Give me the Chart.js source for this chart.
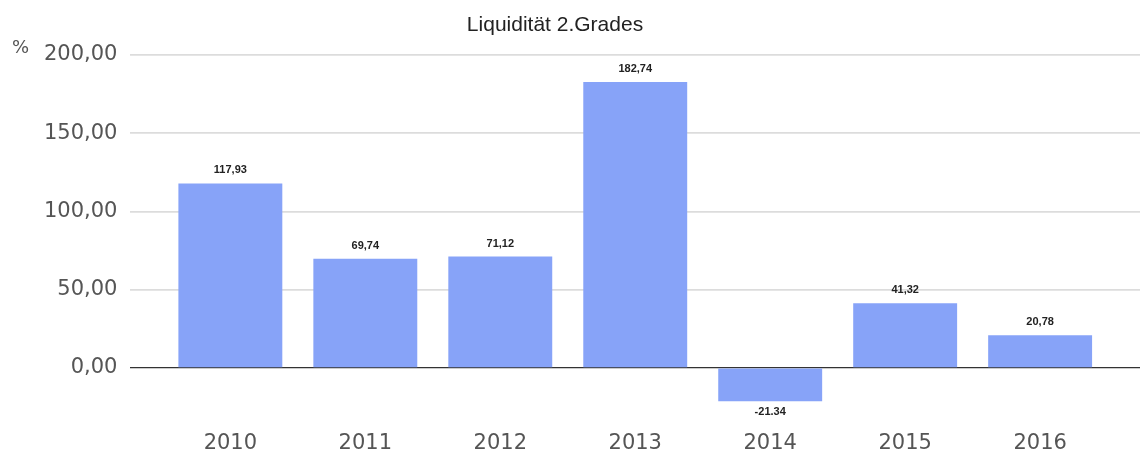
<!DOCTYPE html>
<html>
<head>
<meta charset="utf-8">
<script src="https://cdn.jsdelivr.net/npm/chart.js@4.4.0/dist/chart.umd.min.js"></script>
<style>
  html, body { margin: 0; padding: 0; background: #fff; }
  #wrap { width: 1140px; height: 453px; }
</style>
</head>
<body>
<div id="wrap"><canvas id="chart"></canvas></div>
<script>
// --- data ---
var titel = "Liquidität 2.Grades";
var years = [2010, 2011, 2012, 2013, 2014, 2015, 2016];
var liquiditaet = [117.93, 69.74, 71.12, 182.74, -21.34, 41.32, 20.78];
var wertLabels = ["117,93", "69,74", "71,12", "182,74", "-21.34", "41,32", "20,78"];
var yTicks = [0, 50, 100, 150, 200];

var ctx = document.getElementById("chart").getContext("2d");

// kleine Werte-Beschriftung über/unter den Balken
const wertePlugin = {
  id: "werte",
  afterDatasetsDraw(chart) {
    const c = chart.ctx;
    const meta = chart.getDatasetMeta(0);
    c.save();
    c.font = "bold 11px 'Liberation Sans', Arial, sans-serif";
    c.fillStyle = "#222";
    c.textAlign = "center";
    c.textBaseline = "middle";
    meta.data.forEach((bar, i) => {
      const v = liquiditaet[i];
      const y = v >= 0 ? bar.y - 13 : bar.y + 11;
      c.fillText(wertLabels[i], bar.x, y);
    });
    c.restore();
  }
};

// Titel und "%" oben links
const kopfPlugin = {
  id: "kopf",
  afterDraw(chart) {
    const c = chart.ctx;
    c.save();
    c.font = "21px 'Liberation Sans', Arial, sans-serif";
    c.fillStyle = "#222";
    c.textAlign = "center";
    c.textBaseline = "middle";
    c.fillText(titel, 555, 25);
    c.font = "18px 'DejaVu Sans', Verdana, sans-serif";
    c.fillStyle = "#555";
    c.textAlign = "left";
    c.fillText("%", 12, chart.scales.y.getPixelForValue(200) - 7);
    c.restore();
  }
};

const config = {
  type: "bar",
  data: {
    datasets: [{
      data: years.map((j, i) => ({ x: j, y: liquiditaet[i] })),
      backgroundColor: "#87a3f8",
      borderWidth: 0,
      barPercentage: 0.77,
      categoryPercentage: 1
    }]
  },
  options: {
    responsive: true,
    maintainAspectRatio: false,
    animation: false,
    layout: { padding: { left: 31, right: 0, top: 55, bottom: -19 } },
    plugins: {
      legend: { display: false },
      tooltip: { enabled: false },
      title: { display: false }
    },
    scales: {
      x: {
        type: "linear",
        offset: false,
        min: 2009.26,
        max: 2016.74,
        grid: { display: false, drawTicks: false },
        border: { display: false },
        ticks: {
          stepSize: 1,
          includeBounds: false,
          padding: 16,
          color: "#555",
          font: { family: "'DejaVu Sans', Verdana, sans-serif", size: 21 },
          callback: (v) => String(v)
        }
      },
      y: {
        min: -30,
        max: 200,
        border: { display: false },
        grid: {
          color: (c) => c.tick && c.tick.value === 0 ? "#333" : "#dcdcdc",
          lineWidth: (c) => c.tick && c.tick.value === 0 ? 1.2 : 1.8,
          drawTicks: false
        },
        afterBuildTicks: (axis) => { axis.ticks = yTicks.map(v => ({ value: v })); },
        ticks: {
          padding: 13,
          color: "#555",
          font: { family: "'DejaVu Sans', Verdana, sans-serif", size: 21 },
          callback: (v) => v.toFixed(2).replace(".", ",")
        }
      }
    }
  },
  plugins: [wertePlugin, kopfPlugin]
};

const meinChart = new Chart(ctx, config);
</script>
</body>
</html>
